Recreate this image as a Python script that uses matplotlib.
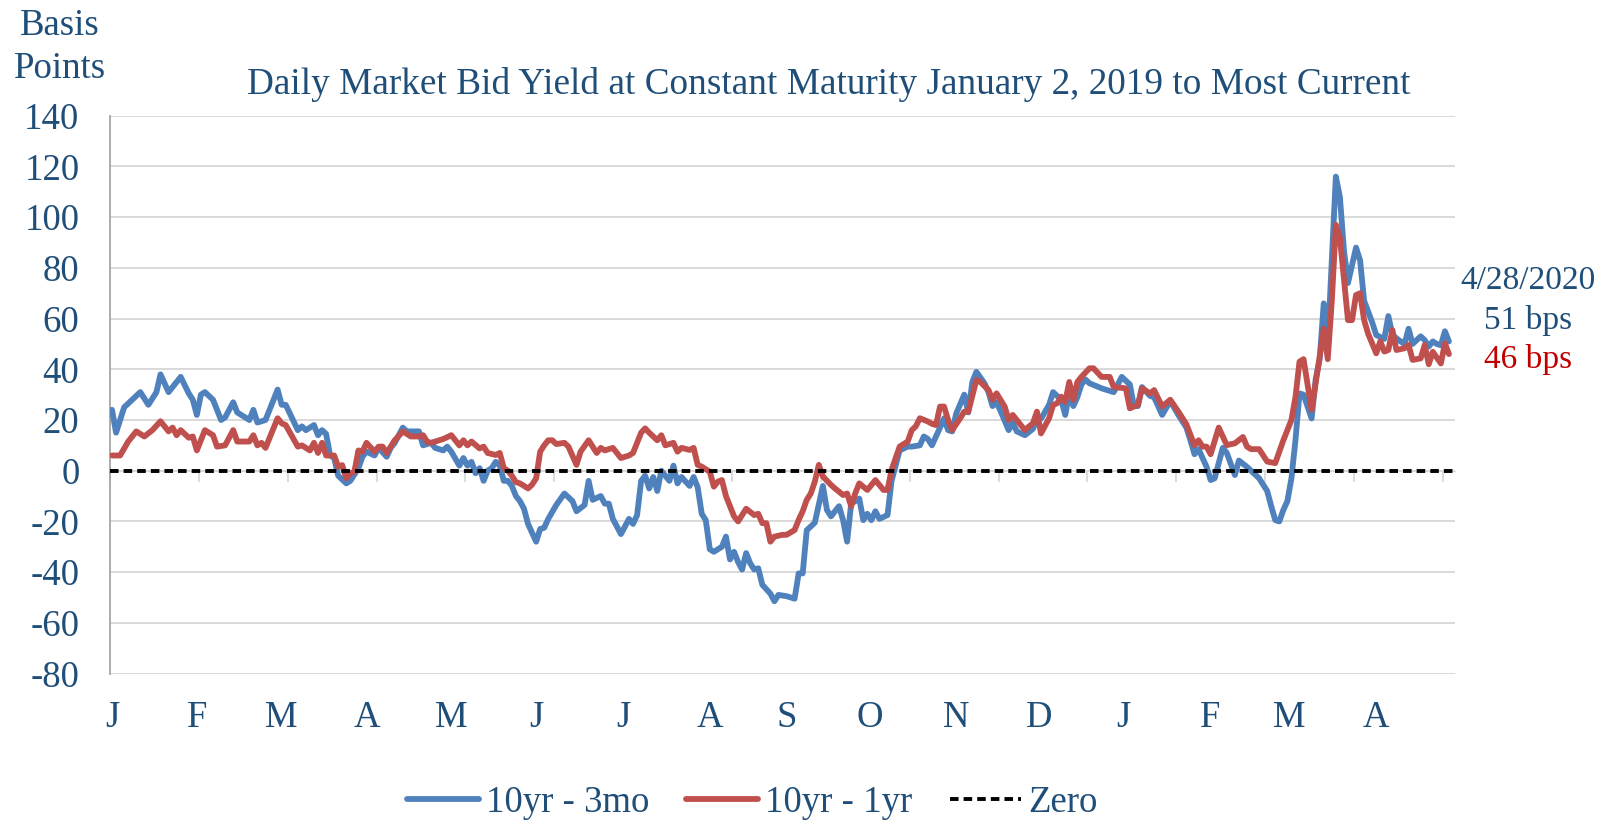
import matplotlib
matplotlib.use('Agg')
import matplotlib.pyplot as plt

plt.rcParams['font.family'] = ['Liberation Serif', 'DejaVu Serif']

# ---------------- data ----------------
month_labels = ['J', 'F', 'M', 'A', 'M', 'J', 'J', 'A', 'S', 'O', 'N', 'D', 'J', 'F', 'M', 'A']
month_pos = [0, 21, 42, 63, 84, 105, 126.5, 148, 167, 187.5, 209, 229.5, 250.5, 272, 291.5, 313]

y_ticks = [-80, -60, -40, -20, 0, 20, 40, 60, 80, 100, 120, 140]

# trading-day index (0 = Jan 2, 2019) and spread in basis points
days_3mo = [0, 1, 3, 7, 9, 11, 12, 14, 16, 17, 19, 20, 21, 22, 23, 25, 27, 28, 30, 31, 33, 34, 35, 36, 38,
            41, 42, 43, 46, 47, 48, 50, 51, 52, 53, 54, 55, 56, 58, 59, 61, 62, 63, 65, 66, 68, 69, 70, 72, 73,
            76, 77, 79, 80, 82, 83, 84, 86, 87, 88, 89, 90, 91, 92, 93, 94, 95, 96, 97, 98, 99, 100, 101, 102,
            103, 105, 106, 107, 108, 110, 112, 114, 115, 117, 118, 119, 121, 122, 123, 124, 126, 128, 129, 130,
            131, 132, 133, 134, 135, 136, 138, 139, 140, 141, 143, 144, 145, 146, 147, 148, 149, 151, 152, 153,
            154, 155, 156, 157, 158, 159, 160, 161, 163, 164, 165, 167, 169, 170, 171, 172, 174, 176, 177, 178,
            180, 181, 182, 183, 185, 186, 187, 188, 189, 190, 192, 193, 195, 197, 198, 200, 201, 202, 203, 205,
            206, 207, 208, 209, 211, 212, 213, 214, 216, 217, 218, 219, 220, 222, 223, 224, 226, 228, 229, 230,
            232, 233, 235, 236, 237, 238, 239, 240, 241, 242, 245, 246, 248, 250, 252, 253, 254, 255, 257, 258,
            260, 262, 264, 266, 267, 268, 269, 271, 272, 273, 275, 276, 278, 279, 281, 283, 284, 286, 287, 288,
            289, 290, 291, 292, 293, 294, 295, 297, 298, 299, 300, 301, 303, 304, 305, 306, 308, 309, 310, 312,
            313, 315, 316, 317, 319, 320, 321, 322, 324, 325, 326, 327, 328, 329, 330, 331]
spread_3mo = [24, 15, 25, 31, 26, 31, 38, 31, 35, 37, 30.5, 28, 22, 30, 31, 28, 20, 21, 27, 23, 21, 20, 24, 19, 20,
              32, 26, 26, 16, 17.5, 16, 18, 14, 16, 14.5, 6, 5, -2, -5, -4, 1, 5.5, 7.5, 6, 9, 5.5, 9, 11, 17, 15.5,
              15.5, 10, 11, 9, 8, 9.5, 7.5, 2, 5, 2, 3.5, -1, 1, -4, 0, 1, 3.5, 2, -4, -4, -6, -10, -12, -15,
              -21, -28, -23, -22.5, -19, -13.5, -9, -12, -16, -13.5, -4, -11.5, -10, -13, -13, -19, -25, -19, -21, -17.5,
              -4, -2, -7, -2.5, -8, 0, -4, 2, -5, -2.5, -6, -2.5, -6.5, -17, -19.5, -31, -32, -30, -26, -35,
              -32, -36, -39, -32.5, -36.5, -39, -38.5, -45, -48.5, -51.5, -49, -49.5, -50.5, -40.5, -40.5, -23.5, -20.5, -6, -15.5, -18,
              -14, -19.5, -28, -13, -11, -19.5, -17, -19.5, -16, -19, -17.5, -4, 8, 9.5, 9.5, 10, 13.5, 12.5, 10, 17,
              20.7, 16, 15.5, 22.5, 30, 23, 35, 39, 34.5, 31, 25.5, 27, 23.5, 16, 19, 15.5, 14, 16.5, 20.5, 20.5,
              26, 31, 28, 22, 30.5, 25.5, 29, 34, 36, 34.5, 32.5, 32, 31, 37, 34, 25.5, 25.5, 33, 29.5, 29,
              22, 27.5, 22, 17, 12, 6.5, 8.5, 1.5, -3.7, -3, 9, 7, -1.7, 4, 1.5, -1.5, -3, -8, -14, -19.5,
              -20, -15.5, -12, -3, 12, 30.5, 30, 20.6, 36, 44, 66, 50, 116, 108, 87, 74, 88, 83, 67, 58.5,
              53.5, 52, 61, 53.5, 51, 50, 56, 50, 53, 51.5, 49, 51, 50, 49.5, 55, 51]

days_1yr = [0, 2, 4, 5, 6, 8, 10, 12, 14, 15, 16, 17, 19, 20, 21, 23, 25, 26, 28, 30, 31, 34, 35, 36, 37, 38,
            41, 42, 43, 46, 47, 49, 50, 51, 52, 53, 55, 56, 57, 58, 59, 60, 61, 62, 63, 65, 66, 67, 68, 70,
            72, 74, 76, 77, 78, 79, 81, 82, 84, 85, 86, 87, 88, 89, 91, 92, 93, 95, 96, 97, 98, 99, 100, 101,
            103, 104, 105, 106, 107, 108, 109, 110, 112, 113, 115, 116, 118, 120, 121, 122, 124, 126, 128, 129,
            131, 132, 133, 135, 136, 137, 139, 140, 141, 143, 144, 145, 146, 148, 149, 150, 151, 152, 154, 155,
            157, 159, 160, 161, 162, 163, 164, 166, 167, 169, 170, 171, 172, 173, 174, 175, 176, 178, 179, 181,
            182, 183, 184, 185, 187, 189, 191, 192, 193, 195, 197, 198, 199, 200, 202, 203, 204, 205, 206, 207,
            208, 210, 211, 212, 214, 215, 217, 218, 219, 221, 222, 223, 224, 226, 227, 228, 229, 230, 232, 233,
            234, 235, 236, 237, 238, 239, 240, 242, 243, 245, 247, 248, 251, 252, 254, 255, 257, 258, 260, 262,
            264, 266, 268, 269, 270, 271, 272, 274, 276, 278, 280, 281, 282, 284, 286, 288, 290, 292, 293, 294,
            295, 297, 299, 300, 301, 302, 303, 304, 306, 307, 308, 309, 310, 311, 313, 314, 315, 316, 317, 318,
            320, 321, 322, 324, 325, 326, 327, 329, 330, 331]
spread_1yr = [6, 6, 11.5, 13.5, 15.5, 13.5, 16, 19.5, 15.5, 17, 14, 16, 13, 13.5, 8, 16, 14, 9.5, 10, 16, 11.5, 11.5, 14, 10, 11, 9,
              20.7, 18.7, 18, 9.5, 10, 8, 11, 7, 11, 6, 6, 1.6, 2.2, -3, -1, -0.5, 8, 7.5, 11, 7.5, 9.5, 9.5, 7, 12,
              15.5, 13.5, 13.5, 14, 11.5, 11, 12, 12.5, 14, 12, 10, 12, 10, 11.5, 8.8, 9.5, 7, 6.2, 7, 1, 0, -2, -4.5, -5,
              -7, -5.5, -3, 7.5, 10, 12, 12, 10.5, 11, 9.5, 2.3, 7.5, 12, 7, 9, 8, 9, 5, 6, 7,
              15, 16.7, 15, 12, 14, 10, 11, 7.5, 9, 8.2, 9, 2.3, 1.6, -0.4, -6.3, -4.3, -3.7, -10, -18, -20,
              -15, -17.5, -17, -20.7, -20.7, -28, -26, -25.3, -25.3, -23.4, -19.4, -16, -11.5, -9, -4.3, 2.3, -2.3, -5.6, -7, -9.6,
              -9, -14, -9, -5, -7.6, -3.7, -7.6, -7.6, 0.3, 9.5, 11.5, 16, 17.5, 20.7, 19.4, 18.5, 18, 25.3, 25.3, 20,
              16, 20.7, 23.3, 23.3, 35.8, 35, 31.8, 28, 30.5, 25.3, 20, 22, 20, 16, 17.4, 18.7, 23.3, 14.7, 20.7, 25.9,
              26.6, 29.2, 27.2, 35, 28, 35, 37, 40.4, 40.4, 37, 37, 33, 32.5, 24.6, 26, 32.5, 30.5, 31.8, 25.3, 28,
              23.3, 18.3, 10, 12, 9.5, 9.5, 6.5, 17, 10.1, 10.8, 13.3, 9.5, 8.5, 8.5, 3.6, 3, 12, 20, 29, 43,
              44, 24, 45, 56, 44, 67, 97, 92, 59.4, 59.4, 69.3, 70, 59.4, 54, 46.3, 51, 47, 47.6, 55.5, 47.6,
              48.3, 49.6, 43.7, 44.3, 49.6, 42, 46.9, 42.3, 50.2, 46]

latest_date = '4/28/2020'
latest_3mo = 51
latest_1yr = 46

# ---------------- styling ----------------
text_blue = '#1F4E79'
line_blue = '#4F81BD'
line_red = '#C0504D'
text_red = '#C00000'
grid_col = '#D9D9D9'

fig = plt.figure(figsize=(16.08, 8.21), dpi=100)
ax = fig.add_axes([110 / 1608, 1 - 673.5 / 821, (1455 - 110) / 1608, (673.5 - 115.8) / 821])

ax.plot(days_3mo, spread_3mo, color=line_blue, lw=4.2, solid_joinstyle='round', solid_capstyle='round',
        label='10yr - 3mo', zorder=3)
ax.plot(days_1yr, spread_1yr, color=line_red, lw=4.2, solid_joinstyle='round', solid_capstyle='round',
        label='10yr - 1yr', zorder=4)
ax.axhline(0, color='black', lw=2.8, dashes=(2.2, 1.3), label='Zero', zorder=5)

ax.set_xlim(-0.5, 332.5)
ax.set_ylim(-80, 140)
ax.set_yticks(y_ticks)
ax.set_yticklabels([str(v) for v in y_ticks], fontsize=26.5, color=text_blue)
ax.tick_params(axis='y', length=0, pad=22)
ax.yaxis.grid(True, color=grid_col, lw=1.4)
ax.set_axisbelow(True)

# category axis crosses at zero, with tick marks every 22 trading days
ax.spines['bottom'].set_position(('data', 0))
ax.spines['bottom'].set_color(grid_col)
ax.spines['top'].set_visible(False)
ax.spines['right'].set_visible(False)
ax.spines['left'].set_color('#A6A6A6')
ax.spines['left'].set_linewidth(1.3)
ax.set_xticks([-0.5 + 22 * k for k in range(16)])
ax.tick_params(axis='x', direction='out', length=8, width=1.3, color=grid_col, labelbottom=False)

for lab, pos in zip(month_labels, month_pos):
    ax.text(pos, -0.08, lab, transform=ax.get_xaxis_transform(), ha='center', va='center',
            fontsize=26.5, color=text_blue)

fig.text(0.5155, 1 - 85 / 821, 'Daily Market Bid Yield at Constant Maturity January 2, 2019 to Most Current',
         ha='center', va='center', fontsize=26.8, color=text_blue)
fig.text(60 / 1608, 1 - 47 / 821, 'Basis\nPoints', ha='center', va='center', fontsize=26.5,
         color=text_blue, linespacing=1.32)

fig.text(1528 / 1608, 1 - 281 / 821, latest_date, ha='center', va='center', fontsize=24, color=text_blue)
fig.text(1528 / 1608, 1 - 320 / 821, f'{latest_3mo} bps', ha='center', va='center', fontsize=24, color=text_blue)
fig.text(1528 / 1608, 1 - 359 / 821, f'{latest_1yr} bps', ha='center', va='center', fontsize=24, color=text_red)

leg = fig.legend(loc='center', bbox_to_anchor=(0.468, 0.022), ncol=3, frameon=False, fontsize=26.5,
                 handlelength=1.95, handletextpad=0.2, columnspacing=1.0)
for t in leg.get_texts():
    t.set_color(text_blue)

fig.savefig('out.png', dpi=100)
